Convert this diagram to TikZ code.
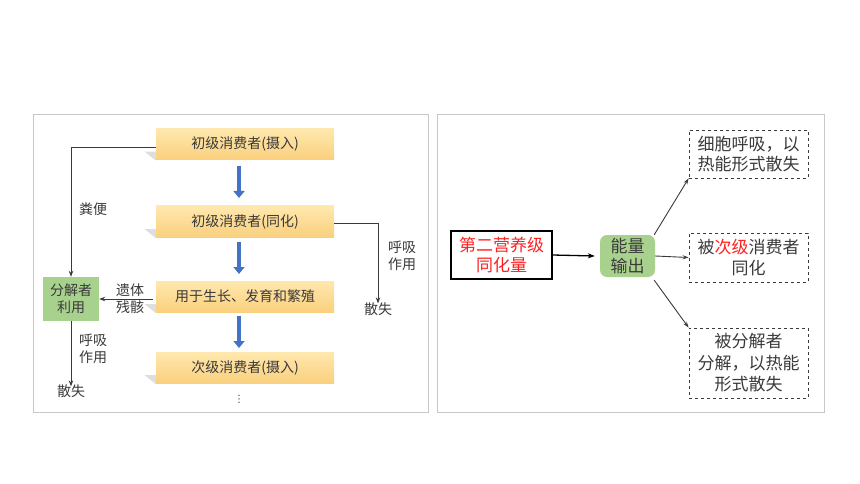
\documentclass[tikz,border=0pt]{standalone}
\usepackage{fontspec}
\setmainfont{Noto Sans CJK SC}
\newfontfamily\symfont{DejaVu Sans}
\usetikzlibrary{arrows.meta,calc}
\definecolor{txt}{HTML}{3A3A3A}
\definecolor{orangeT}{HTML}{FFE8AE}
\definecolor{orangeB}{HTML}{FAD07E}
\definecolor{greenL}{HTML}{A9D18E}
\definecolor{blueA}{HTML}{4472C4}
\definecolor{frameC}{HTML}{C8C8C8}
\definecolor{redT}{HTML}{FF2020}
\tikzset{
  panel/.style={draw=frameC, line width=1pt, fill=white},
  obox/.style={minimum width=178pt, minimum height=31pt, inner sep=0pt,
     top color=orangeT, bottom color=orangeB, draw=none, text=txt,
     font=\fontsize{14}{16}\selectfont},
  wedge/.style={fill=black, opacity=0.13},
  gbox/.style={fill=greenL, draw=none, text=txt, align=center, inner sep=0pt,
     font=\fontsize{14}{17}\selectfont},
  lbl/.style={text=txt, align=center, inner sep=0pt, font=\fontsize{14}{17}\selectfont},
  conn/.style={draw=txt, line width=0.9pt, -{Stealth[length=6pt,width=4.5pt]}},
  bluearrow/.style={draw=blueA, line width=4.5pt, -{Triangle[length=7pt,width=11pt]}},
  dbox/.style={draw=txt, dashed, line width=0.8pt, minimum width=119pt, inner sep=0pt,
     align=center, text=txt, font=\fontsize{17}{20.5}\selectfont},
  rconn/.style={draw=txt, line width=0.9pt, -{Stealth[length=6pt,width=4pt]}},
}
\newcommand{\boxwedge}[1]{%
  \fill[wedge] ($(#1.south west)+(0,-8)$) -- ($(#1.south west)+(-11,-8)$) -- ($(#1.south west)+(0,1)$) -- cycle;}
\begin{document}
\begin{tikzpicture}[x=1pt,y=-1pt]
\useasboundingbox (0,0) rectangle (860,484);
\fill[white] (0,0) rectangle (860,484);
% panels
\draw[panel] (33,115) rectangle (428,412);
\draw[panel] (437,115) rectangle (824,412);

% left panel
\node[obox] (b1) at (245,144) {初级消费者(摄入)};
\node[obox] (b2) at (245,221.5) {初级消费者(同化)};
\node[obox] (b3) at (245,296.5) {用于生长、发育和繁殖};
\node[obox] (b4) at (245,367.5) {次级消费者(摄入)};
\boxwedge{b1}
\boxwedge{b2}
\boxwedge{b3}
\boxwedge{b4}
\node[gbox, minimum width=56pt, minimum height=44pt] (g1) at (71,299) {分解者\\利用};

\coordinate (a1s) at (239,166);
\coordinate (a1e) at (239,198);
\coordinate (a2s) at (239,242);
\coordinate (a2e) at (239,274);
\coordinate (a3s) at (239,316);
\coordinate (a3e) at (239,348);
\draw[bluearrow] (a1s) -- (a1e);
\draw[bluearrow] (a2s) -- (a2e);
\draw[bluearrow] (a3s) -- (a3e);

\node[lbl] (s1) at (378,309) {散失};
\node[lbl] (s2) at (71,391) {散失};
\node[lbl] (l1) at (93,209) {粪便};
\node[lbl] (l2) at (130,299) {遗体\\残骸};
\node[lbl] (l3) at (402,256) {呼吸\\作用};
\node[lbl] (l4) at (93,349) {呼吸\\作用};
\node[text=txt, inner sep=0pt, font=\symfont\fontsize{10}{10}\selectfont] (dots) at (239,399) {⋮};

\coordinate (b1w) at ($(b1.west)+(0,3)$);
\draw[conn] (b1w) -| (g1.north);
\coordinate (b2e) at ($(b2.east)+(0,1.5)$);
\draw[conn] (b2e) -| ([yshift=-1pt]s1.north);
\coordinate (b3w) at ($(b3.west)+(-3,2.5)$);
\draw[conn] (b3w) -- (b3w -| g1.east);
\draw[conn] (g1.south) -- ([yshift=-2pt]s2.north);

% right panel
\node[draw=black, line width=1.3pt, minimum width=101pt, minimum height=48pt, inner sep=0pt,
      align=center, text=redT, font=\fontsize{17}{20.5}\selectfont] (src) at (501.5,255) {第二营养级\\同化量};
\node[gbox, rounded corners=7pt, minimum width=55pt, minimum height=42pt,
      font=\fontsize{17}{20.5}\selectfont] (g2) at (627.5,256) {能量\\输出};
\node[dbox, minimum height=48pt] (d1) at (748.5,154) {细胞呼吸，以\\热能形式散失};
\node[dbox, minimum height=49pt] (d2) at (748.5,257.5) {被{\color{redT}次级}消费者\\同化};
\node[dbox, minimum height=70pt, font=\fontsize{17}{21.5}\selectfont] (d3) at (748.5,363) {被分解者\\分解，以热能\\形式散失};

\draw[draw=black, line width=1.3pt, -{Stealth[length=7pt,width=5pt]}] (src.east) -- ([xshift=-5pt]g2.west);
\draw[rconn] ([xshift=-1pt]g2.north east) -- (d1.south west);
\draw[rconn] (g2.east) -- (d2.west);
\draw[rconn] ([xshift=-1pt,yshift=-3pt]g2.south east) -- (d3.north west);
\end{tikzpicture}
\end{document}
